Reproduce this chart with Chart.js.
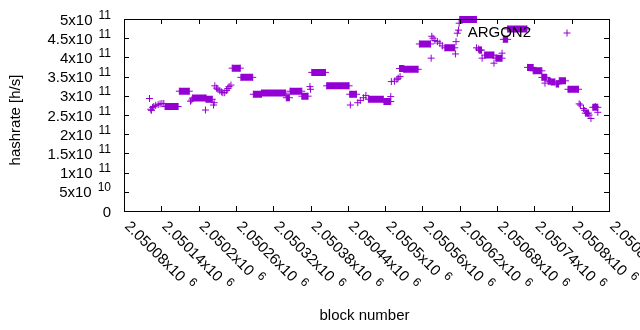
<!DOCTYPE html>
<html><head><meta charset="utf-8">
<script src="https://cdn.jsdelivr.net/npm/chart.js@4/dist/chart.umd.min.js"></script>
<style>html,body{margin:0;padding:0;background:#fff}canvas{display:block}</style>
</head><body>
<canvas id="c" width="640" height="330"></canvas>
<script>
const seriesName = "ARGON2";
const xTitle = "block number";
const yTitle = "hashrate [h/s]";
const xTickValues = [2050080,2050140,2050200,2050260,2050320,2050380,2050440,2050500,2050560,2050620,2050680,2050740,2050800,2050860];
const xTickLabels = ["2.05008x10^6","2.05014x10^6","2.0502x10^6","2.05026x10^6","2.05032x10^6","2.05038x10^6","2.05044x10^6","2.0505x10^6","2.05056x10^6","2.05062x10^6","2.05068x10^6","2.05074x10^6","2.0508x10^6","2.05086x10^6"];
const yTickValues = [0,5e10,1e11,1.5e11,2e11,2.5e11,3e11,3.5e11,4e11,4.5e11,5e11];
const yTickLabels = ["0","5x10^10","1x10^11","1.5x10^11","2x10^11","2.5x10^11","3x10^11","3.5x10^11","4x10^11","4.5x10^11","5x10^11"];

// single blocks
const pointBlocks = [2050121,2050123,2050124,2050126,2050128,2050131,2050135,2050138,2050141,2050144,
  2050187,2050189,2050211,2050224,2050225,2050226,2050229,2050231,2050234,2050237,2050239,2050242,2050245,2050247,2050249,2050252,
  2050379,2050380,2050444,2050456,2050460,2050465,2050469,2050509,2050510,2050515,2050519,2050521,2050524,
  2050574,2050575,2050577,2050580,2050584,2050588,2050592,2050613,2050614,2050616,2050618,2050619,
  2050647,2050650,2050653,2050656,2050675,2050688,2050757,
  2050812,2050814,2050819,2050821,2050825,2050828,2050831,2050838,2050842];
const pointHash = [2.93e11,2.65e11,2.62e11,2.70e11,2.72e11,2.75e11,2.77e11,2.79e11,2.80e11,2.80e11,
  2.86e11,2.89e11,2.63e11,2.76e11,2.82e11,3.26e11,3.20e11,3.17e11,3.13e11,3.10e11,3.08e11,3.08e11,3.14e11,3.19e11,3.24e11,3.28e11,
  3.24e11,3.17e11,2.76e11,2.82e11,2.88e11,2.95e11,3.01e11,2.98e11,3.37e11,3.38e11,3.43e11,3.46e11,3.50e11,
  3.98e11,4.55e11,4.50e11,4.44e11,4.41e11,4.37e11,4.30e11,4.09e11,4.41e11,4.63e11,4.71e11,4.89e11,
  4.25e11,4.22e11,4.19e11,3.98e11,3.85e11,4.11e11,3.33e11,
  2.79e11,2.76e11,2.67e11,2.62e11,2.54e11,2.50e11,2.41e11,2.72e11,2.57e11];

// runs of consecutive blocks with the same hashrate
const runStart = [2050146,2050169,2050190,2050212,2050254,2050268,2050288,2050301,2050341,2050347,2050366,2050382,2050406,2050443,
  2050473,2050498,2050523,2050530,2050555,2050596,2050620,2050651,2050660,2050678,2050690,2050697,2050729,2050738,2050752,
  2050762,2050767,2050775,2050780,2050794,2050822,2050834];
const runEnd   = [2050167,2050185,2050212,2050222,2050267,2050287,2050301,2050340,2050346,2050366,2050376,2050404,2050442,2050454,
  2050497,2050509,2050530,2050553,2050573,2050612,2050647,2050655,2050675,2050688,2050697,2050728,2050738,2050752,2050760,
  2050766,2050773,2050779,2050790,2050811,2050827,2050842];
const runHash  = [2.72e11,3.12e11,2.94e11,2.91e11,3.72e11,3.48e11,3.04e11,3.07e11,2.95e11,3.12e11,2.99e11,3.61e11,3.26e11,3.04e11,
  2.91e11,2.85e11,3.71e11,3.69e11,4.35e11,4.25e11,4.99e11,4.19e11,4.06e11,3.98e11,4.47e11,4.74e11,3.74e11,3.65e11,3.48e11,
  3.38e11,3.36e11,3.31e11,3.39e11,3.17e11,2.55e11,2.70e11];

const COLOR = '#9400d3';
const FONT = '"Liberation Sans", Arial, sans-serif';

const runLine = [];
runStart.forEach((s, i) => {
  runLine.push({x: s, y: runHash[i]}, {x: runEnd[i], y: runHash[i]}, {x: runEnd[i], y: null});
});
const markers = pointBlocks.map((b, i) => ({x: b, y: pointHash[i]}));
runStart.forEach((s, i) => { markers.push({x: s, y: runHash[i]}, {x: runEnd[i], y: runHash[i]}); });

function drawRich(ctx, str, x, y, align) {
  const parts = str.split('^');
  ctx.font = '15px ' + FONT;
  const wMain = ctx.measureText(parts[0]).width;
  let wSup = 0, gap = 0;
  if (parts[1]) { ctx.font = '12px ' + FONT; wSup = ctx.measureText(parts[1]).width; gap = 6; }
  let x0 = align === 'right' ? x - (wMain + gap + wSup) : x;
  ctx.textAlign = 'left';
  ctx.font = '15px ' + FONT;
  ctx.fillText(parts[0], x0, y);
  if (parts[1]) { ctx.font = '12px ' + FONT; ctx.fillText(parts[1], x0 + wMain + gap, y - 6); }
}

const decor = {
  id: 'decor',
  afterDraw(chart) {
    const ctx = chart.ctx, a = chart.chartArea, xs = chart.scales.x, ys = chart.scales.y;
    ctx.save();
    ctx.strokeStyle = '#000'; ctx.lineWidth = 1; ctx.fillStyle = '#000';
    ctx.strokeRect(Math.round(a.left) + 0.5, Math.round(a.top) + 0.5, Math.round(a.right - a.left), Math.round(a.bottom - a.top));
    ctx.beginPath();
    yTickValues.forEach(v => {
      const p = Math.round(ys.getPixelForValue(v)) + 0.5;
      ctx.moveTo(a.left, p); ctx.lineTo(a.left + 5, p);
      ctx.moveTo(a.right, p); ctx.lineTo(a.right - 5, p);
    });
    xTickValues.forEach(v => {
      const p = Math.round(xs.getPixelForValue(v)) + 0.5;
      ctx.moveTo(p, a.bottom); ctx.lineTo(p, a.bottom - 5);
      ctx.moveTo(p, a.top); ctx.lineTo(p, a.top + 5);
    });
    ctx.stroke();
    ctx.textBaseline = 'alphabetic';
    yTickValues.forEach((v, i) => {
      const p = ys.getPixelForValue(v);
      drawRich(ctx, yTickLabels[i], 111, p + 5.5, 'right');
    });
    xTickValues.forEach((v, i) => {
      const p = xs.getPixelForValue(v);
      ctx.save();
      ctx.translate(p, a.bottom + 16);
      ctx.rotate(Math.PI / 4);
      drawRich(ctx, xTickLabels[i], 0, 0, 'left');
      ctx.restore();
    });
    ctx.font = '15px ' + FONT;
    ctx.textAlign = 'center'; ctx.textBaseline = 'middle';
    ctx.fillText(xTitle, 364.5, 316);
    ctx.save();
    ctx.translate(16, 120); ctx.rotate(-Math.PI / 2);
    ctx.fillText(yTitle, 0, 0);
    ctx.restore();
    // key
    ctx.textAlign = 'right'; ctx.textBaseline = 'alphabetic';
    ctx.fillText(seriesName, 531, 37);
    ctx.strokeStyle = COLOR; ctx.beginPath();
    ctx.moveTo(563.5, 33); ctx.lineTo(570.5, 33); ctx.moveTo(567, 29.5); ctx.lineTo(567, 36.5);
    ctx.stroke();
    ctx.restore();
  }
};

new Chart(document.getElementById('c'), {
  type: 'scatter',
  data: {
    datasets: [
      { type: 'line', label: seriesName, data: runLine, borderColor: COLOR, borderWidth: 7, borderCapStyle: 'butt',
        pointRadius: 0, spanGaps: false, fill: false, tension: 0, clip: false },
      { type: 'scatter', label: seriesName, data: markers, borderColor: COLOR, backgroundColor: COLOR,
        pointStyle: 'cross', pointRadius: 3.5, pointBorderWidth: 1, borderWidth: 1, clip: false }
    ]
  },
  options: {
    responsive: false, animation: false, devicePixelRatio: 1,
    layout: { padding: { left: 124, right: 31, top: 19, bottom: 119 } },
    plugins: { legend: { display: false }, tooltip: { enabled: false } },
    scales: {
      x: { type: 'linear', min: 2050080, max: 2050860, display: false },
      y: { type: 'linear', min: 0, max: 5e11, display: false }
    }
  },
  plugins: [decor]
});
</script>
</body></html>
